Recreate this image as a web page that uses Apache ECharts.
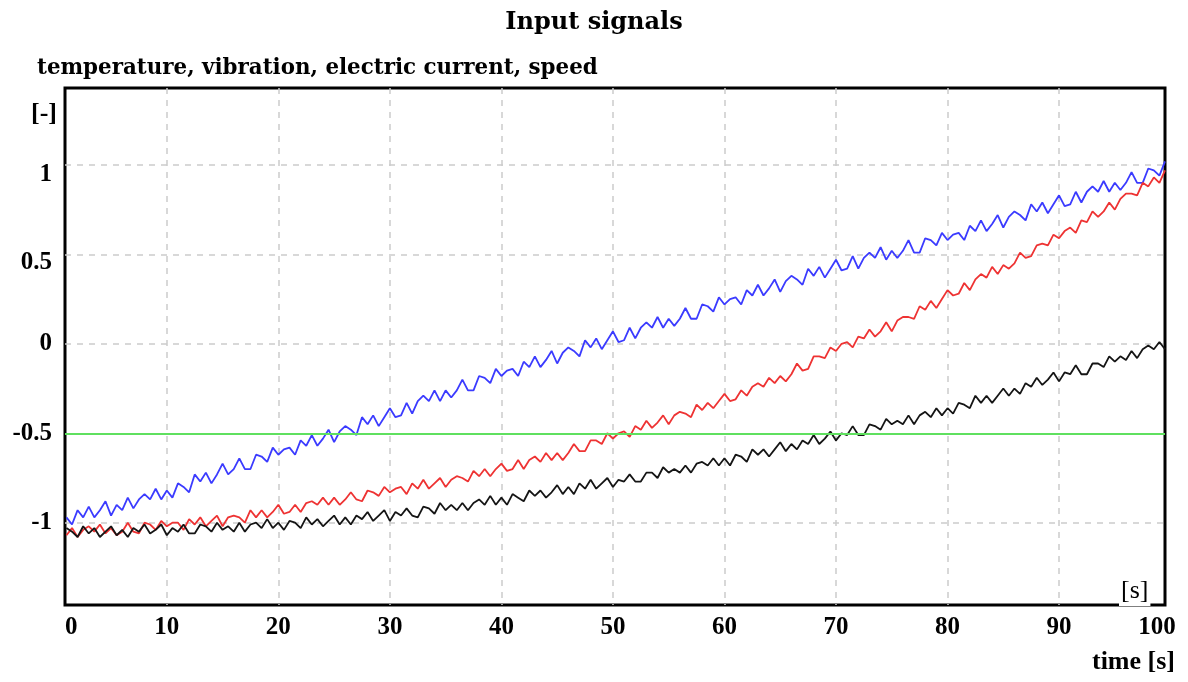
<!DOCTYPE html>
<html>
<head>
<meta charset="utf-8">
<script src="https://cdn.jsdelivr.net/npm/echarts@6/dist/echarts.min.js"></script>
<style>
html,body{margin:0;padding:0;background:#fff;}
#chart{width:1188px;height:682px;}
</style>
</head>
<body>
<div id="chart"></div>
<script>
// ---- data ----
const titleText = 'Input signals';
const subtitleText = 'temperature, vibration, electric current, speed';
const xName = 'time [s]';
const yName = '[-]';
const xUnitInBox = '[s]';

const xMin = 0.87, xMax = 99.5;     // visible time range of the box
const yMin = -1.46, yMax = 1.43;    // visible value range of the box
const threshold = -0.5;             // green level line

// sample times: start 1.0 s, every 0.5 s, 198 samples
const T0 = 1.0, DT = 0.5, N = 198;
const time = [];
for (let i = 0; i < N; i++) time.push(T0 + i * DT);

// blue signal
const blue = [
-0.97,-1.01,-0.93,-0.97,-0.91,-0.97,-0.93,-0.88,-0.96,-0.90,
-0.93,-0.86,-0.92,-0.87,-0.84,-0.87,-0.81,-0.87,-0.82,-0.86,
-0.78,-0.80,-0.83,-0.73,-0.77,-0.72,-0.78,-0.73,-0.67,-0.73,
-0.70,-0.64,-0.70,-0.70,-0.62,-0.63,-0.66,-0.58,-0.62,-0.59,
-0.58,-0.62,-0.54,-0.57,-0.51,-0.57,-0.53,-0.48,-0.55,-0.49,
-0.46,-0.48,-0.51,-0.41,-0.45,-0.40,-0.46,-0.41,-0.36,-0.41,
-0.40,-0.33,-0.39,-0.32,-0.29,-0.32,-0.26,-0.32,-0.26,-0.30,
-0.26,-0.20,-0.26,-0.26,-0.18,-0.19,-0.22,-0.14,-0.18,-0.15,
-0.14,-0.18,-0.10,-0.13,-0.07,-0.13,-0.09,-0.04,-0.11,-0.05,
-0.02,-0.04,-0.07,0.02,-0.02,0.03,-0.03,0.02,0.07,0.01,
0.02,0.09,0.03,0.09,0.12,0.09,0.15,0.09,0.14,0.10,
0.14,0.20,0.14,0.14,0.22,0.21,0.18,0.26,0.22,0.25,
0.26,0.22,0.30,0.27,0.33,0.27,0.31,0.36,0.29,0.35,
0.38,0.36,0.33,0.42,0.38,0.43,0.37,0.42,0.47,0.41,
0.42,0.49,0.42,0.48,0.51,0.48,0.54,0.47,0.52,0.48,
0.52,0.58,0.51,0.51,0.59,0.58,0.55,0.62,0.58,0.61,
0.62,0.58,0.66,0.63,0.69,0.63,0.67,0.72,0.65,0.71,
0.74,0.72,0.69,0.78,0.74,0.79,0.73,0.78,0.83,0.77,
0.78,0.85,0.79,0.85,0.88,0.85,0.91,0.85,0.90,0.86,
0.90,0.96,0.90,0.90,0.98,0.97,0.94,1.02
];

// red signal
const red = [
-1.07,-1.03,-1.08,-1.04,-1.02,-1.05,-1.01,-1.06,-1.03,-1.07,
-1.05,-1.00,-1.05,-1.06,-1.00,-1.01,-1.04,-0.99,-1.02,-1.00,
-1.00,-1.04,-0.98,-1.01,-0.97,-1.02,-0.99,-0.96,-1.02,-0.97,
-0.96,-0.97,-1.00,-0.93,-0.97,-0.93,-0.97,-0.94,-0.90,-0.95,
-0.94,-0.90,-0.94,-0.89,-0.88,-0.90,-0.86,-0.90,-0.86,-0.90,
-0.87,-0.83,-0.87,-0.88,-0.82,-0.83,-0.85,-0.80,-0.83,-0.81,
-0.80,-0.84,-0.78,-0.81,-0.76,-0.81,-0.78,-0.75,-0.80,-0.76,
-0.74,-0.75,-0.77,-0.71,-0.74,-0.70,-0.74,-0.70,-0.67,-0.71,
-0.70,-0.65,-0.70,-0.65,-0.63,-0.66,-0.61,-0.65,-0.61,-0.65,
-0.61,-0.56,-0.60,-0.60,-0.54,-0.54,-0.56,-0.50,-0.53,-0.50,
-0.49,-0.52,-0.46,-0.48,-0.43,-0.47,-0.44,-0.40,-0.45,-0.40,
-0.38,-0.39,-0.41,-0.34,-0.37,-0.33,-0.36,-0.32,-0.28,-0.32,
-0.31,-0.26,-0.29,-0.24,-0.22,-0.24,-0.19,-0.22,-0.18,-0.21,
-0.17,-0.11,-0.15,-0.14,-0.07,-0.07,-0.08,-0.02,-0.04,0.00,
0.01,-0.02,0.04,0.03,0.08,0.04,0.07,0.12,0.07,0.13,
0.15,0.15,0.14,0.21,0.19,0.24,0.20,0.25,0.30,0.27,
0.28,0.34,0.30,0.36,0.39,0.37,0.43,0.39,0.44,0.42,
0.45,0.51,0.48,0.49,0.55,0.56,0.55,0.61,0.59,0.63,
0.65,0.62,0.69,0.68,0.74,0.71,0.74,0.79,0.75,0.81,
0.84,0.84,0.83,0.90,0.88,0.93,0.90,0.97
];

// black signal
const black = [
-1.03,-1.05,-1.08,-1.02,-1.06,-1.03,-1.08,-1.05,-1.02,-1.07,
-1.04,-1.08,-1.03,-1.05,-1.01,-1.06,-1.04,-1.01,-1.07,-1.03,
-1.05,-1.01,-1.06,-1.06,-1.01,-1.02,-1.05,-1.00,-1.04,-1.02,
-1.05,-1.00,-1.05,-1.01,-1.00,-1.03,-0.98,-1.03,-1.00,-1.04,
-0.99,-1.00,-1.03,-0.97,-1.01,-0.98,-1.02,-0.99,-0.96,-1.01,
-0.97,-1.01,-0.96,-0.98,-0.94,-0.99,-0.96,-0.93,-0.99,-0.94,
-0.96,-0.92,-0.96,-0.97,-0.91,-0.92,-0.95,-0.89,-0.93,-0.90,
-0.93,-0.89,-0.93,-0.89,-0.87,-0.90,-0.85,-0.90,-0.86,-0.90,
-0.84,-0.86,-0.88,-0.82,-0.85,-0.82,-0.86,-0.83,-0.79,-0.84,
-0.80,-0.84,-0.78,-0.81,-0.76,-0.81,-0.78,-0.75,-0.80,-0.76,
-0.77,-0.73,-0.77,-0.77,-0.72,-0.72,-0.75,-0.69,-0.72,-0.70,
-0.72,-0.68,-0.72,-0.67,-0.66,-0.68,-0.64,-0.68,-0.64,-0.68,
-0.62,-0.63,-0.66,-0.59,-0.62,-0.59,-0.63,-0.59,-0.55,-0.60,
-0.56,-0.59,-0.54,-0.56,-0.51,-0.56,-0.53,-0.49,-0.54,-0.50,
-0.51,-0.46,-0.51,-0.51,-0.45,-0.46,-0.48,-0.42,-0.45,-0.43,
-0.45,-0.40,-0.45,-0.40,-0.38,-0.41,-0.36,-0.40,-0.36,-0.39,
-0.33,-0.34,-0.36,-0.29,-0.33,-0.29,-0.33,-0.29,-0.25,-0.29,
-0.25,-0.28,-0.22,-0.24,-0.19,-0.23,-0.20,-0.16,-0.21,-0.16,
-0.17,-0.12,-0.17,-0.17,-0.11,-0.11,-0.13,-0.07,-0.10,-0.07,
-0.09,-0.04,-0.08,-0.03,-0.01,-0.03,0.01,-0.03
];

// ---- chart ----
const textFont = 'DejaVu Serif';
const tickFont = 'Liberation Serif';
const pair = arr => time.map((t, i) => [t, arr[i]]);
const gridLine = {show: true, showMinLine: false, showMaxLine: false,
                  lineStyle: {color: '#cccccc', width: 1.5, type: [6, 6]}};
const tickTextStyle = {fontFamily: tickFont, fontWeight: 'bold', fontSize: 25, color: '#000'};

const chart = echarts.init(document.getElementById('chart'), null, {renderer: 'canvas'});
chart.setOption({
  animation: false,
  backgroundColor: '#fff',
  title: [
    {text: titleText, left: 'center', top: 6,
     textStyle: {fontFamily: textFont, fontWeight: 'bold', fontSize: 24, color: '#000'}},
    {text: subtitleText, left: 32, top: 53,
     textStyle: {fontFamily: textFont, fontWeight: 'bold', fontSize: 21.4, color: '#000'}},
    {text: xUnitInBox, left: 1119, top: 578, padding: [0, 2, 2, 2], backgroundColor: '#fff', z: 20,
     textStyle: {fontFamily: tickFont, fontWeight: 'normal', fontSize: 26, color: '#000'}}
  ],
  grid: {left: 65, right: 23, top: 88, bottom: 77, show: true,
         borderColor: '#000', borderWidth: 3, backgroundColor: 'transparent'},
  xAxis: {
    type: 'value', min: xMin, max: xMax, splitNumber: 10,
    name: xName, nameLocation: 'end', nameGap: 10,
    nameTextStyle: {fontFamily: tickFont, fontWeight: 'bold', fontSize: 26, color: '#000',
                    align: 'right', verticalAlign: 'top', padding: [44, 0, 0, 0]},
    axisLine: {show: false, onZero: false}, axisTick: {show: false},
    splitLine: gridLine,
    axisLabel: Object.assign({
      margin: 10,
      formatter: v => {
        const r = Math.round(v / 10) * 10;
        return r === 100 ? '{e|' + r + '}' : String(r);
      },
      rich: {e: Object.assign({padding: [0, 16, 0, 0]}, tickTextStyle)},
      alignMinLabel: 'left'
    }, tickTextStyle)
  },
  yAxis: {
    type: 'value', min: yMin, max: yMax, splitNumber: 6,
    name: yName, nameLocation: 'end', nameGap: -26,
    nameTextStyle: {fontFamily: tickFont, fontWeight: 'bold', fontSize: 26, color: '#000',
                    align: 'right', verticalAlign: 'middle', padding: [0, 8, 0, 0]},
    axisLine: {show: false, onZero: false}, axisTick: {show: false},
    splitLine: gridLine,
    axisLabel: Object.assign({
      margin: 13,
      formatter: v => {
        const r = Math.round(v * 2) / 2;
        if (Math.abs(v - r) > 1e-6) return '';
        if (r === 1) return '{a|1}';
        if (r === 0.5) return '{b|0.5}';
        return String(r);
      },
      rich: {
        a: Object.assign({padding: [20, 0, 0, 0]}, tickTextStyle),
        b: Object.assign({padding: [16, 0, 0, 0]}, tickTextStyle)
      }
    }, tickTextStyle)
  },
  series: [
    {name: 'blue', type: 'line', data: pair(blue), showSymbol: false, symbol: 'none',
     lineStyle: {color: '#3b3bff', width: 1.8}},
    {name: 'red', type: 'line', data: pair(red), showSymbol: false, symbol: 'none',
     lineStyle: {color: '#ee3333', width: 1.8}},
    {name: 'black', type: 'line', data: pair(black), showSymbol: false, symbol: 'none',
     lineStyle: {color: '#151515', width: 1.8}},
    {name: 'level', type: 'line', data: [], symbol: 'none',
     markLine: {silent: true, symbol: 'none', label: {show: false},
                lineStyle: {color: '#5fe05f', width: 2, type: 'solid'},
                data: [{yAxis: threshold}]}}
  ]
});
</script>
</body>
</html>
